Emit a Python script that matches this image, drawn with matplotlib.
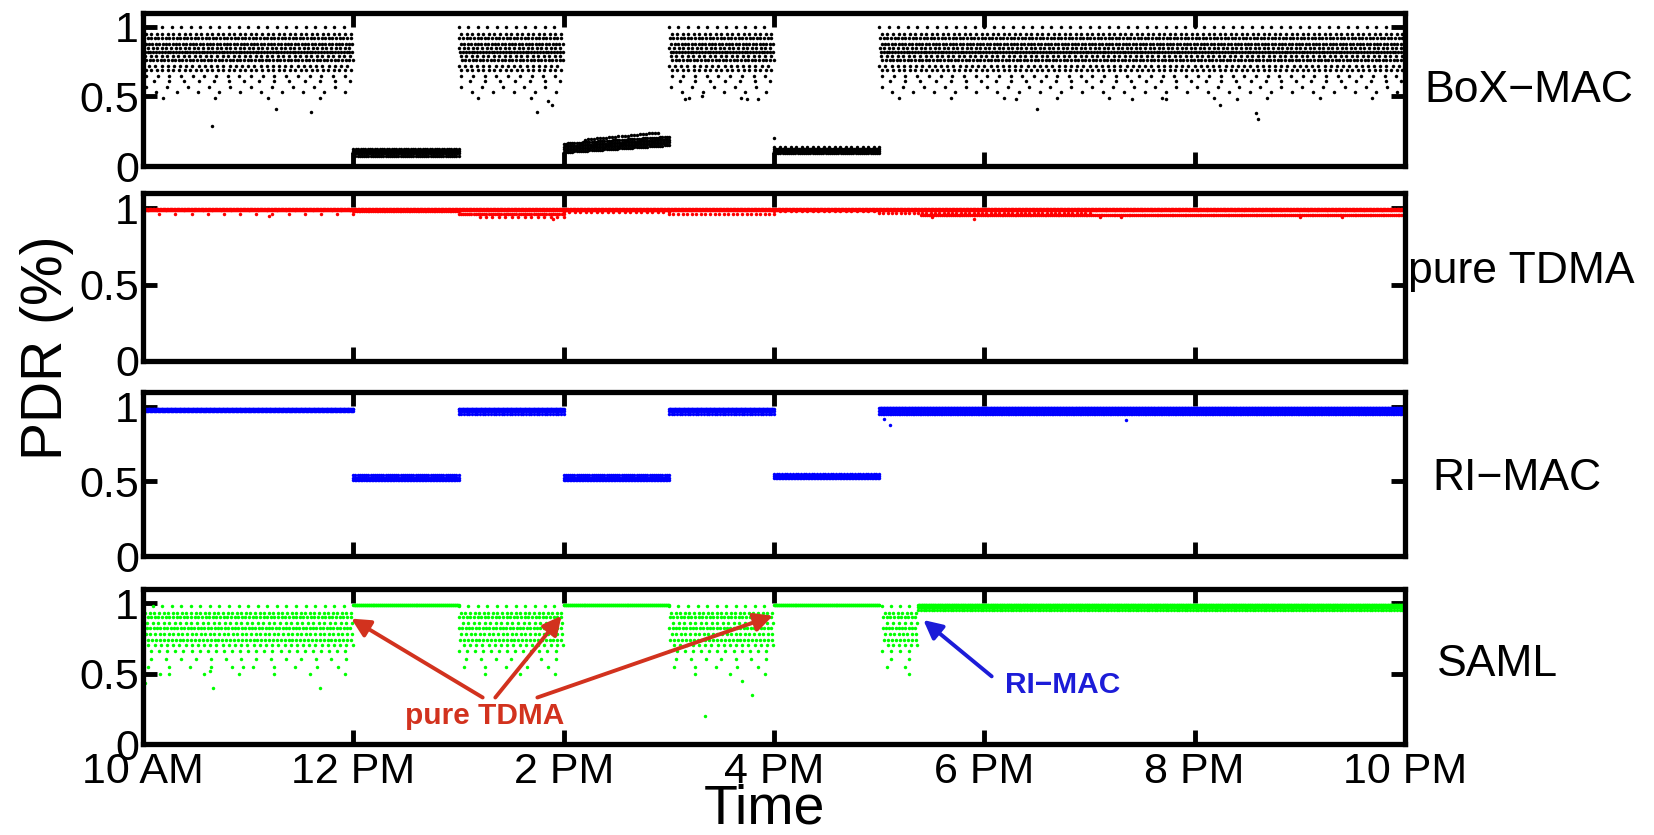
import numpy as np
import matplotlib.pyplot as plt

plt.rcParams['font.family'] = ['Liberation Sans', 'DejaVu Sans']

# x axis: hours of the day
HOURS = [10, 12, 14, 16, 18, 20, 22]
HOUR_LABELS = ['10 AM', '12 PM', '2 PM', '4 PM', '6 PM', '8 PM', '10 PM']
PANEL_NAMES = ['BoX\u2212MAC', 'pure TDMA', 'RI\u2212MAC', 'SAML']
PANEL_COLORS = ['#000000', '#ff0000', '#0000ff', '#00ff00']

# BoX-MAC: scattered cloud in the "good" hours, low band in the "bad" hours
BOX_CLOUD_SPANS = [(10.0, 12.0), (13.0, 14.0), (15.0, 16.0), (17.0, 22.0)]
BOX_CLOUD_LEVELS = [1.0, 0.95, 0.92, 0.88, 0.85, 0.82, 0.79, 0.76, 0.72, 0.69, 0.65, 0.61, 0.57, 0.53, 0.49]
BOX_CLOUD_RATE = [11, 19, 29, 31, 23, 37, 19, 29, 17, 19, 9, 7, 5, 5, 2]  # points per hour
# (start, end, pdr at start, pdr at end, points)
BOX_BANDS = [
    (12.0, 13.0, 0.075, 0.075, 50), (12.0, 13.0, 0.095, 0.095, 70),
    (12.0, 13.0, 0.11, 0.11, 70), (12.0, 13.0, 0.125, 0.125, 45),
    (14.0, 15.0, 0.10, 0.15, 50), (14.0, 15.0, 0.12, 0.17, 70),
    (14.0, 15.0, 0.14, 0.19, 70), (14.0, 15.0, 0.16, 0.21, 50),
    (14.2, 14.9, 0.19, 0.24, 25),
    (16.0, 17.0, 0.095, 0.095, 50), (16.0, 17.0, 0.11, 0.11, 70),
    (16.0, 17.0, 0.125, 0.125, 60), (16.0, 17.0, 0.14, 0.14, 20),
]
BOX_OUT_T = [10.66, 11.26, 11.6, 13.75, 13.89, 13.85, 15.15, 15.32, 15.74, 15.85, 16.0,
             18.3, 18.5, 19.4, 19.73, 20.24, 20.4, 20.6, 20.58]
BOX_OUT_Y = [0.29, 0.41, 0.39, 0.39, 0.44, 0.47, 0.48, 0.50, 0.48, 0.48, 0.20,
             0.48, 0.41, 0.48, 0.48, 0.44, 0.48, 0.34, 0.38]

# pure TDMA
TDMA_BANDS = [
    (10.0, 22.0, 0.99, 0.99, 1400), (10.0, 22.0, 0.995, 0.995, 900),
    (10.0, 12.0, 0.965, 0.965, 14),
    (12.0, 13.0, 0.98, 0.98, 60), (13.0, 14.0, 0.965, 0.965, 50),
    (13.2, 14.0, 0.945, 0.945, 14), (14.0, 15.0, 0.975, 0.975, 20),
    (15.0, 16.0, 0.965, 0.965, 24), (16.0, 17.0, 0.98, 0.98, 20),
    (17.0, 19.0, 0.97, 0.97, 50), (17.4, 22.0, 0.955, 0.955, 260),
]
TDMA_OUT_T = [11.2, 13.9, 17.5, 17.9, 19.1, 19.3, 21.0, 21.4, 14.0, 16.0]
TDMA_OUT_Y = [0.95, 0.93, 0.94, 0.93, 0.94, 0.94, 0.94, 0.94, 0.0, 0.0]

# RI-MAC
RIMAC_BANDS = [
    (10.0, 12.0, 0.985, 0.985, 260), (10.0, 12.0, 0.97, 0.97, 160),
    (12.0, 13.0, 0.51, 0.51, 70), (12.0, 13.0, 0.525, 0.525, 90), (12.0, 13.0, 0.54, 0.54, 50),
    (13.0, 14.0, 0.985, 0.985, 130), (13.0, 14.0, 0.97, 0.97, 60), (13.0, 14.0, 0.95, 0.95, 40),
    (14.0, 15.0, 0.51, 0.51, 70), (14.0, 15.0, 0.525, 0.525, 90), (14.0, 15.0, 0.54, 0.54, 50),
    (15.0, 16.0, 0.985, 0.985, 130), (15.0, 16.0, 0.97, 0.97, 60), (15.0, 16.0, 0.95, 0.95, 40),
    (16.0, 17.0, 0.52, 0.52, 70), (16.0, 17.0, 0.535, 0.535, 90), (16.0, 17.0, 0.55, 0.55, 40),
    (17.0, 22.0, 0.99, 0.99, 700), (17.0, 22.0, 0.975, 0.975, 400), (17.0, 22.0, 0.95, 0.95, 300),
]
RIMAC_OUT_T = [17.05, 17.1, 19.35, 14.0, 16.0]
RIMAC_OUT_Y = [0.92, 0.88, 0.91, 0.0, 0.0]

# SAML: cloud while BoX-MAC would be used, flat line in the TDMA hours
SAML_CLOUD_SPANS = [(10.0, 12.0), (13.0, 14.0), (15.0, 16.0), (17.03, 17.37)]
SAML_CLOUD_LEVELS = [0.98, 0.93, 0.90, 0.86, 0.82, 0.78, 0.74, 0.70, 0.66, 0.60, 0.55, 0.50]
SAML_CLOUD_RATE = [11, 23, 29, 19, 31, 23, 27, 17, 13, 7, 5, 3]
SAML_BANDS = [
    (12.0, 13.0, 0.99, 0.99, 160), (14.0, 15.0, 0.99, 0.99, 160),
    (16.0, 17.0, 0.99, 0.99, 160),
    (17.37, 22.0, 0.99, 0.99, 700), (17.37, 22.0, 0.975, 0.975, 400),
    (17.37, 22.0, 0.95, 0.95, 180),
]
SAML_OUT_T = [10.02, 10.16, 10.64, 10.67, 10.95, 11.68, 15.34, 15.79, 15.7, 13.0, 15.0]
SAML_OUT_Y = [0.43, 0.50, 0.52, 0.40, 0.55, 0.40, 0.20, 0.35, 0.45, 0.0, 0.0]

# annotation arrows in the SAML panel: (tip hour, tip pdr, tail hour, tail pdr)
TDMA_ARROWS = [(11.98, 0.89, 13.23, 0.33), (13.98, 0.91, 13.35, 0.33), (15.99, 0.91, 13.75, 0.33)]
RIMAC_ARROW = (17.42, 0.88, 18.07, 0.48)

# shifts the dots of neighbouring cloud rows so they don't line up in columns
ROW_PHASE = [0.0, 0.5, 0.25, 0.75, 0.125, 0.625, 0.375, 0.875]


def cloud_bands(spans, levels, rates):
    bands = []
    for t0, t1 in spans:
        for k, (y, r) in enumerate(zip(levels, rates)):
            n = max(1, int(round(r * (t1 - t0))))
            step = (t1 - t0) / n
            ph = ROW_PHASE[k % len(ROW_PHASE)]
            bands.append((t0 + ph * step, t1 - (1 - ph) * step, y, y, n))
    return bands


def expand(bands, out_t, out_y):
    ts, ys = [np.asarray(out_t, float)], [np.asarray(out_y, float)]
    for t0, t1, y0, y1, n in bands:
        ts.append(np.linspace(t0, t1, n))
        ys.append(np.linspace(y0, y1, n))
    return np.concatenate(ts), np.concatenate(ys)


series = [
    expand(cloud_bands(BOX_CLOUD_SPANS, BOX_CLOUD_LEVELS, BOX_CLOUD_RATE) + BOX_BANDS, BOX_OUT_T, BOX_OUT_Y),
    expand(TDMA_BANDS, TDMA_OUT_T, TDMA_OUT_Y),
    expand(RIMAC_BANDS, RIMAC_OUT_T, RIMAC_OUT_Y),
    expand(cloud_bands(SAML_CLOUD_SPANS, SAML_CLOUD_LEVELS, SAML_CLOUD_RATE) + SAML_BANDS, SAML_OUT_T, SAML_OUT_Y),
]

fig = plt.figure(figsize=(16.54, 8.35), dpi=100)
W, H = 1654, 835
left, right = 143, 1405
panel_px = [(13, 166), (193, 361), (392, 556), (589, 744)]
label_pos = [(1424, 90), (1408, 272), (1432, 478), (1437, 665)]

axes = []
for i, (top, bottom) in enumerate(panel_px):
    ax = fig.add_axes([left / W, 1 - bottom / H, (right - left) / W, (bottom - top) / H])
    t, y = series[i]
    ax.plot(t, y, linestyle='none', marker='o', markersize=2.5, markeredgewidth=0,
            color=PANEL_COLORS[i], clip_on=False, zorder=2)
    ax.set_xlim(10, 22)
    ax.set_ylim(0, 1.1)
    ax.set_xticks(HOURS)
    ax.set_yticks([0, 0.5, 1])
    ax.set_yticklabels(['0', '0.5', '1'])
    if i == 3:
        ax.set_xticklabels(HOUR_LABELS)
    else:
        ax.set_xticklabels([])
    ax.tick_params(which='both', direction='in', top=True, right=True, length=10, width=3.5,
                   labelsize=31, color='black')
    ax.tick_params(axis='y', pad=3)
    ax.tick_params(axis='x', pad=6)
    for s in ax.spines.values():
        s.set_linewidth(3.8)
        s.set_zorder(3)
    lx, ly = label_pos[i]
    fig.text(lx / W, 1 - ly / H, PANEL_NAMES[i], fontsize=32, ha='left', va='center')
    axes.append(ax)

fig.text(47 / W, 1 - 348 / H, 'PDR (%)', fontsize=41, rotation=90, ha='center', va='center')
fig.text(764 / W, 1 - 810 / H, 'Time', fontsize=40, ha='center', va='center')

ax = axes[3]
red, blue = '#d2321e', '#1c1cd8'
for tip_t, tip_y, tail_t, tail_y in TDMA_ARROWS:
    ax.annotate('', xy=(tip_t, tip_y), xytext=(tail_t, tail_y),
                arrowprops=dict(arrowstyle='-|>', lw=2.8, color=red, mutation_scale=28,
                                shrinkA=0, shrinkB=0), zorder=4)
ax.text(13.25, 0.2, 'pure TDMA', color=red, fontsize=21.5, fontweight='bold',
        ha='center', va='center', zorder=4)
tip_t, tip_y, tail_t, tail_y = RIMAC_ARROW
ax.annotate('', xy=(tip_t, tip_y), xytext=(tail_t, tail_y),
            arrowprops=dict(arrowstyle='-|>', lw=2.8, color=blue, mutation_scale=28,
                            shrinkA=0, shrinkB=0), zorder=4)
ax.text(18.74, 0.42, 'RI\u2212MAC', color=blue, fontsize=21.5, fontweight='bold',
        ha='center', va='center', zorder=4)

fig.savefig('out.png', dpi=100)
